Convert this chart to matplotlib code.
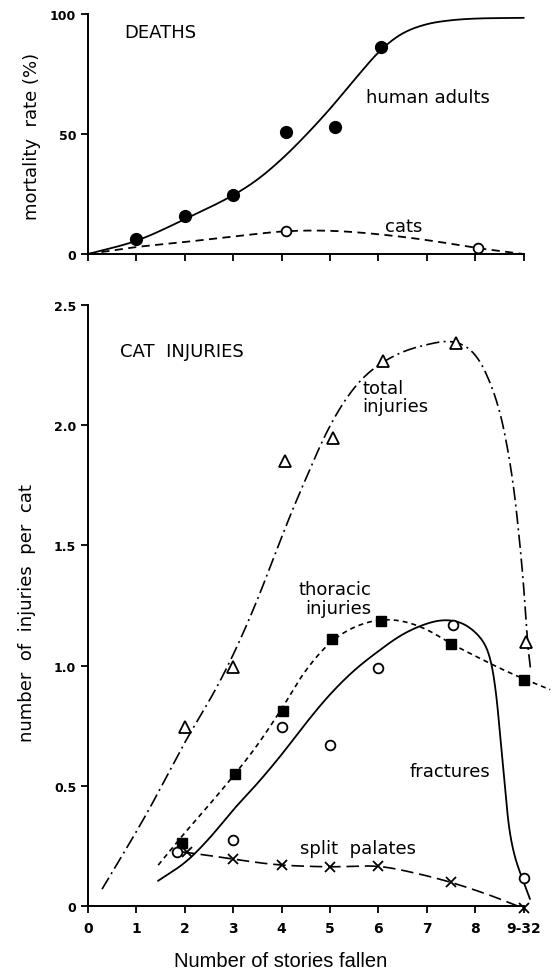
import matplotlib
matplotlib.use("Agg")
import matplotlib.pyplot as plt
import numpy as np

# ---- data ----
stories = [0, 1, 2, 3, 4, 5, 6, 7, 8, 9]
story_labels = ["0", "1", "2", "3", "4", "5", "6", "7", "8", "9-32"]

# deaths (%)
human_x = [1, 2, 3, 4.1, 5.1, 6.05]
human_y = [6.2, 15.9, 24.6, 51, 53, 86.4]
human_fit_x = [0, 1, 2, 3, 3.5, 4, 4.5, 5, 5.5, 6.05, 6.5, 7, 7.5, 8, 9]
human_fit_y = [0, 5.5, 14.5, 24.5, 31, 39.5, 49.5, 60.5, 72.5, 85, 92, 95.8, 97.4, 98.1, 98.4]

cats_x = [4.1, 8.05]
cats_y = [9.5, 2.5]
cats_fit_x = [0, 1, 2, 3.1, 4.1, 5.1, 6.3, 7.3, 8, 9]
cats_fit_y = [0, 2.9, 5, 7.5, 9.5, 9.6, 7.6, 4.9, 2.6, 0]

# cat injuries per cat
total_x = [2, 3, 4.06, 5.07, 6.09, 7.6, 9.05]
total_y = [0.746, 0.996, 1.85, 1.946, 2.267, 2.342, 1.1]
total_fit_x = [0.29, 1.2, 2.0, 2.66, 3.08, 3.49, 3.82, 4.17, 4.55, 4.93, 5.3, 5.65, 6.0,
               6.5, 7.0, 7.47, 7.8, 8.05, 8.3, 8.5, 8.67, 8.8, 8.9, 8.98, 9.04, 9.09, 9.15]
total_fit_y = [0.07, 0.38, 0.68, 0.91, 1.08, 1.27, 1.44, 1.62, 1.80, 1.97, 2.1, 2.19, 2.25,
               2.305, 2.335, 2.35, 2.33, 2.28, 2.18, 2.06, 1.9, 1.73, 1.55, 1.38, 1.22, 1.08, 0.975]

thor_x = [1.95, 3.04, 4.02, 5.05, 6.05, 7.5, 9.0]
thor_y = [0.262, 0.55, 0.81, 1.11, 1.185, 1.09, 0.94]
thor_fit_x = [1.45, 1.94, 2.5, 3.04, 3.5, 4.0, 4.5, 5.03, 5.5, 6.02, 6.5, 7.0, 7.47,
              8.0, 8.5, 9.0, 9.55]
thor_fit_y = [0.17, 0.29, 0.42, 0.55, 0.67, 0.82, 0.98, 1.10, 1.16, 1.19, 1.185, 1.15, 1.095,
              1.04, 0.99, 0.945, 0.9]

frac_x = [1.84, 3.0, 4.0, 5.0, 6.0, 7.55, 9.0]
frac_y = [0.225, 0.275, 0.745, 0.67, 0.99, 1.17, 0.117]
frac_fit_x = [1.45, 2.0, 2.5, 3.0, 3.5, 4.0, 4.5, 5.0, 5.5, 6.0, 6.5, 7.0, 7.35, 7.7,
              8.0, 8.2, 8.32, 8.42, 8.52, 8.62, 8.72, 8.84, 9.0, 9.13]
frac_fit_y = [0.105, 0.18, 0.28, 0.40, 0.51, 0.63, 0.76, 0.88, 0.98, 1.06, 1.13, 1.175, 1.19,
              1.18, 1.14, 1.09, 1.02, 0.9, 0.7, 0.48, 0.3, 0.19, 0.1, 0.03]

palate_x = [2.05, 3.0, 4.0, 5.0, 6.0, 7.5, 9.0]
palate_y = [0.225, 0.195, 0.17, 0.162, 0.168, 0.1, -0.01]
palate_fit_x = [1.95, 2.5, 3.0, 3.9, 5.0, 6.0, 6.8, 7.47, 8.3, 9.0]
palate_fit_y = [0.225, 0.21, 0.195, 0.172, 0.163, 0.165, 0.135, 0.1, 0.045, -0.01]


def smooth(xs, ys, sx, sy, n=30, sigma=6.0):
    # centripetal catmull-rom through the hand-read knots (pixel space),
    # then a light gaussian pass along the path to take out the hand-reading jitter
    p = np.column_stack([np.asarray(xs)*sx, np.asarray(ys)*sy]).astype(float)
    p = np.vstack([2*p[0]-p[1], p, 2*p[-1]-p[-2]])
    out = []
    for i in range(1, len(p)-2):
        p0, p1, p2, p3 = p[i-1], p[i], p[i+1], p[i+2]
        t0 = 0.0
        t1 = t0 + np.linalg.norm(p1-p0)**0.5
        t2 = t1 + np.linalg.norm(p2-p1)**0.5
        t3 = t2 + np.linalg.norm(p3-p2)**0.5
        t = np.linspace(t1, t2, n, endpoint=False)[:, None]
        a1 = (t1-t)/(t1-t0)*p0 + (t-t0)/(t1-t0)*p1
        a2 = (t2-t)/(t2-t1)*p1 + (t-t1)/(t2-t1)*p2
        a3 = (t3-t)/(t3-t2)*p2 + (t-t2)/(t3-t2)*p3
        b1 = (t2-t)/(t2-t0)*a1 + (t-t0)/(t2-t0)*a2
        b2 = (t3-t)/(t3-t1)*a2 + (t-t1)/(t3-t1)*a3
        out.append((t2-t)/(t2-t1)*b1 + (t-t1)/(t2-t1)*b2)
    out.append(p[-2][None])
    pts = np.vstack(out)

    step = 0.5
    d = np.hypot(np.diff(pts[:, 0]), np.diff(pts[:, 1]))
    s = np.concatenate([[0], np.cumsum(d)])
    ss = np.append(np.arange(0, s[-1], step), s[-1])
    x = np.interp(ss, s, pts[:, 0])
    y = np.interp(ss, s, pts[:, 1])
    k = int(3*sigma/step)
    kern = np.exp(-(np.arange(-k, k+1)*step)**2/(2*sigma**2))
    kern /= kern.sum()

    def filt(v):
        vp = np.concatenate([2*v[0]-v[k:0:-1], v, 2*v[-1]-v[-2:-k-2:-1]])
        return np.convolve(vp, kern, mode="valid")

    return filt(x)/sx, filt(y)/sy


W, H = 552, 978
fig = plt.figure(figsize=(W/100, H/100), dpi=100)
fig.patch.set_facecolor("white")

x0 = 88
xmax = 9.55
ppu = 48.4
ax_w = xmax*ppu/W

ax1 = fig.add_axes([x0/W, 1-255/H, ax_w, 240/H])
ax2 = fig.add_axes([x0/W, 1-907/H, ax_w, 601/H])

lw = 1.3
ytickfont = dict(family="DejaVu Sans", size=9, weight="bold")
xtickfont = dict(family="DejaVu Sans", size=10, weight="bold")
lab = dict(family="DejaVu Sans", fontsize=13)

for ax in (ax1, ax2):
    ax.set_xlim(0, xmax)
    for s in ("top", "right"):
        ax.spines[s].set_visible(False)
    ax.spines["left"].set_linewidth(1.4)
    ax.spines["bottom"].set_linewidth(1.4)
    ax.spines["bottom"].set_bounds(0, 9)
    ax.tick_params(direction="out", length=5, width=1.3, color="black")
    ax.set_xticks(stories)

# ---- top: deaths ----
ax1.set_ylim(0, 100)
ax1.spines["left"].set_bounds(0, 100)
ax1.set_yticks([0, 50, 100])
ax1.set_yticklabels(["0", "50", "100"], fontdict=ytickfont)
ax1.set_xticklabels([])

hx, hy = smooth(human_fit_x, human_fit_y, 48.8, 2.4)
ax1.plot(hx, hy, color="black", lw=lw, clip_on=False)
ax1.plot(human_x, human_y, "o", ms=8.5, color="black", clip_on=False)
cx, cy = smooth(cats_fit_x, cats_fit_y, 48.8, 2.4)
ax1.plot(cx, cy, color="black", lw=lw, ls=(0, (4.5, 3)), clip_on=False)
ax1.plot(cats_x, cats_y, "o", ms=7, mfc="white", mec="black", mew=1.3, clip_on=False)

ax1.text(0.74, 92.5, "DEATHS", va="center", ha="left", **lab)
ax1.text(7.03, 65.4, "human adults", va="center", ha="center", **lab)
ax1.text(6.52, 11.7, "cats", va="center", ha="center", **lab)

# ---- bottom: cat injuries ----
ax2.set_ylim(0, 2.5)
ax2.spines["left"].set_bounds(0, 2.5)
ax2.set_yticks([0, 0.5, 1.0, 1.5, 2.0, 2.5])
ax2.set_yticklabels(["0", "0.5", "1.0", "1.5", "2.0", "2.5"], fontdict=ytickfont)
ax2.set_xticklabels(story_labels, fontdict=xtickfont)
ax2.tick_params(axis="x", pad=6)

sx, sy = 48.3, 240
tx, ty = smooth(total_fit_x, total_fit_y, sx, sy)
ax2.plot(tx, ty, color="black", lw=1.2, ls=(0, (8, 2.6, 1.2, 2.6)), clip_on=False)
ax2.plot(total_x, total_y, "^", ms=8, mfc="white", mec="black", mew=1.3, clip_on=False)

thx, thy = smooth(thor_fit_x, thor_fit_y, sx, sy)
ax2.plot(thx, thy, color="black", lw=1.2, ls=(0, (3, 2.4)), clip_on=False)
ax2.plot(thor_x, thor_y, "s", ms=7, color="black", clip_on=False)

fx, fy = smooth(frac_fit_x, frac_fit_y, sx, sy)
ax2.plot(fx, fy, color="black", lw=lw, clip_on=False)
ax2.plot(frac_x, frac_y, "o", ms=7, mfc="white", mec="black", mew=1.3, clip_on=False)

px, py = smooth(palate_fit_x, palate_fit_y, sx, sy)
ax2.plot(px, py, color="black", lw=1.2, ls=(0, (7.5, 3.5)), clip_on=False)
ax2.plot(palate_x, palate_y, "x", ms=7, color="black", mew=1.3, clip_on=False)

ax2.text(0.66, 2.31, "CAT  INJURIES", va="center", ha="left", **lab)
ax2.text(5.67, 2.117, "total\ninjuries", va="center", ha="left",
         multialignment="left", linespacing=1.05, **lab)
ax2.text(5.86, 1.28, "thoracic\ninjuries", va="center", ha="right",
         multialignment="right", linespacing=1.05, **lab)
ax2.text(7.48, 0.5625, "fractures", va="center", ha="center", **lab)
ax2.text(5.57, 0.24, "split  palates", va="center", ha="center", **lab)

fig.text(32/W, 1-136/H, "mortality  rate (%)", rotation=90, ha="center", va="center", **lab)
fig.text(27/W, 1-613/H, "number  of  injuries  per  cat", rotation=90, ha="center",
         va="center", **lab)
fig.text(281/W, 1-962/H, "Number of stories fallen", ha="center", va="center",
         fontsize=14.5, family="Liberation Sans")

fig.savefig("out.png", dpi=100)
